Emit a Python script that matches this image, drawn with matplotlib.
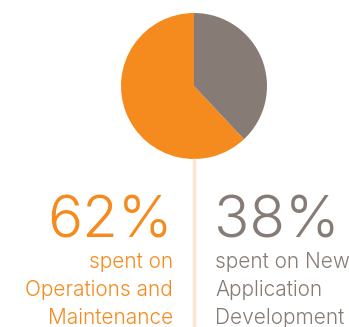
import matplotlib.pyplot as plt

# data
labels = ['Operations and Maintenance', 'New Application Development']
shares = [62, 38]
colors = ['#F58B1F', '#877B75']
line_color = '#FCE6D2'

W, H = 349, 327
fig = plt.figure(figsize=(W / 100, H / 100), dpi=100)

# pie, centre ~ (194, 86) px, radius ~73 px
cx, cy, r = 194, 86, 73
ax = fig.add_axes([(cx - r) / W, 1 - (cy + r) / H, 2 * r / W, 2 * r / H])
ax.pie(shares, colors=colors, startangle=90, counterclock=True,
       wedgeprops=dict(linewidth=0))
ax.set_xlim(-1, 1)
ax.set_ylim(-1, 1)
ax.set_aspect('equal')
ax.axis('off')

# divider line under the pie
fig.add_artist(plt.Line2D([cx / W, cx / W], [0, 1 - 160 / H],
                          color=line_color, linewidth=2.5))

font = ['Inter', 'DejaVu Sans']
fig.text(173 / W, 1 - 237 / H, f'{shares[0]}%', color=colors[0], fontsize=42,
         ha='right', va='baseline', family=font, fontweight=300)
fig.text(214 / W, 1 - 237 / H, f'{shares[1]}%', color=colors[1], fontsize=42,
         ha='left', va='baseline', family=font, fontweight=300)

left_lines = ['spent on', 'Operations and', 'Maintenance']
right_lines = ['spent on New', 'Application', 'Development']
for i, (a, b) in enumerate(zip(left_lines, right_lines)):
    y = 1 - (268 + i * 28) / H
    fig.text(173 / W, y, a, color=colors[0], fontsize=15, ha='right',
             va='baseline', family=font, fontweight=300)
    fig.text(215 / W, y, b, color=colors[1], fontsize=15, ha='left',
             va='baseline', family=font, fontweight=300)

fig.savefig('out.png', dpi=100)
